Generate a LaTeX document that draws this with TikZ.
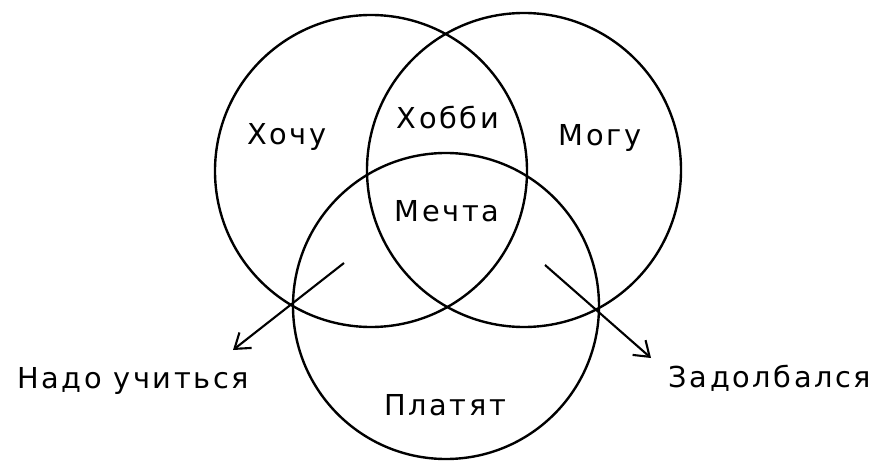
\documentclass[tikz,border=0pt]{standalone}
\usepackage{fontspec}
\setmainfont{DejaVu Sans}
\usepackage{tikz}
\usetikzlibrary{arrows.meta, positioning}

\begin{document}
\begin{tikzpicture}[
    ring/.style={draw=black, line width=3.4pt},
    lbl/.style={font=\fontsize{41}{46}\selectfont\addfontfeature{LetterSpace=9}, anchor=base, inner sep=0pt},
    pointer/.style={line width=3pt, -{Straight Barb[length=20pt, width=28pt, line width=3pt]}}
]
    \useasboundingbox (0,0) rectangle (43.8,23);

    % The three circles
    \coordinate (want) at (18.55,14.45);
    \coordinate (can)  at (26.2,14.5);
    \coordinate (paid) at (22.3,7.7);
    \draw[ring] (want) circle (7.8);
    \draw[ring] (can) circle (7.85);
    \draw[ring] (paid) circle (7.65);

    % Labels inside the circles
    \node[lbl] (wantlbl)  at (14.35,15.75) {Хочу};
    \node[lbl] (hobbylbl) at (22.4,16.55) {Хобби};
    \node[lbl] (canlbl)   at (30.0,15.7) {Могу};
    \node[lbl] (dreamlbl) at (22.35,11.9) {Мечта};
    \node[lbl] (paidlbl)  at (22.25,2.25) {Платят};

    % Labels outside
    \node[lbl] (studylbl) at (6.65,3.6) {Надо учиться};
    \node[lbl] (tiredlbl) at (38.5,3.65) {Задолбался};

    % Arrows
    \coordinate (studyfrom) at (17.2,9.85);
    \coordinate (studyto)   at (11.65,5.5);
    \coordinate (tiredfrom) at (27.25,9.75);
    \coordinate (tiredto)   at (32.55,5.1);
    \draw[pointer] (studyfrom) -- (studyto);
    \draw[pointer] (tiredfrom) -- (tiredto);
\end{tikzpicture}
\end{document}
